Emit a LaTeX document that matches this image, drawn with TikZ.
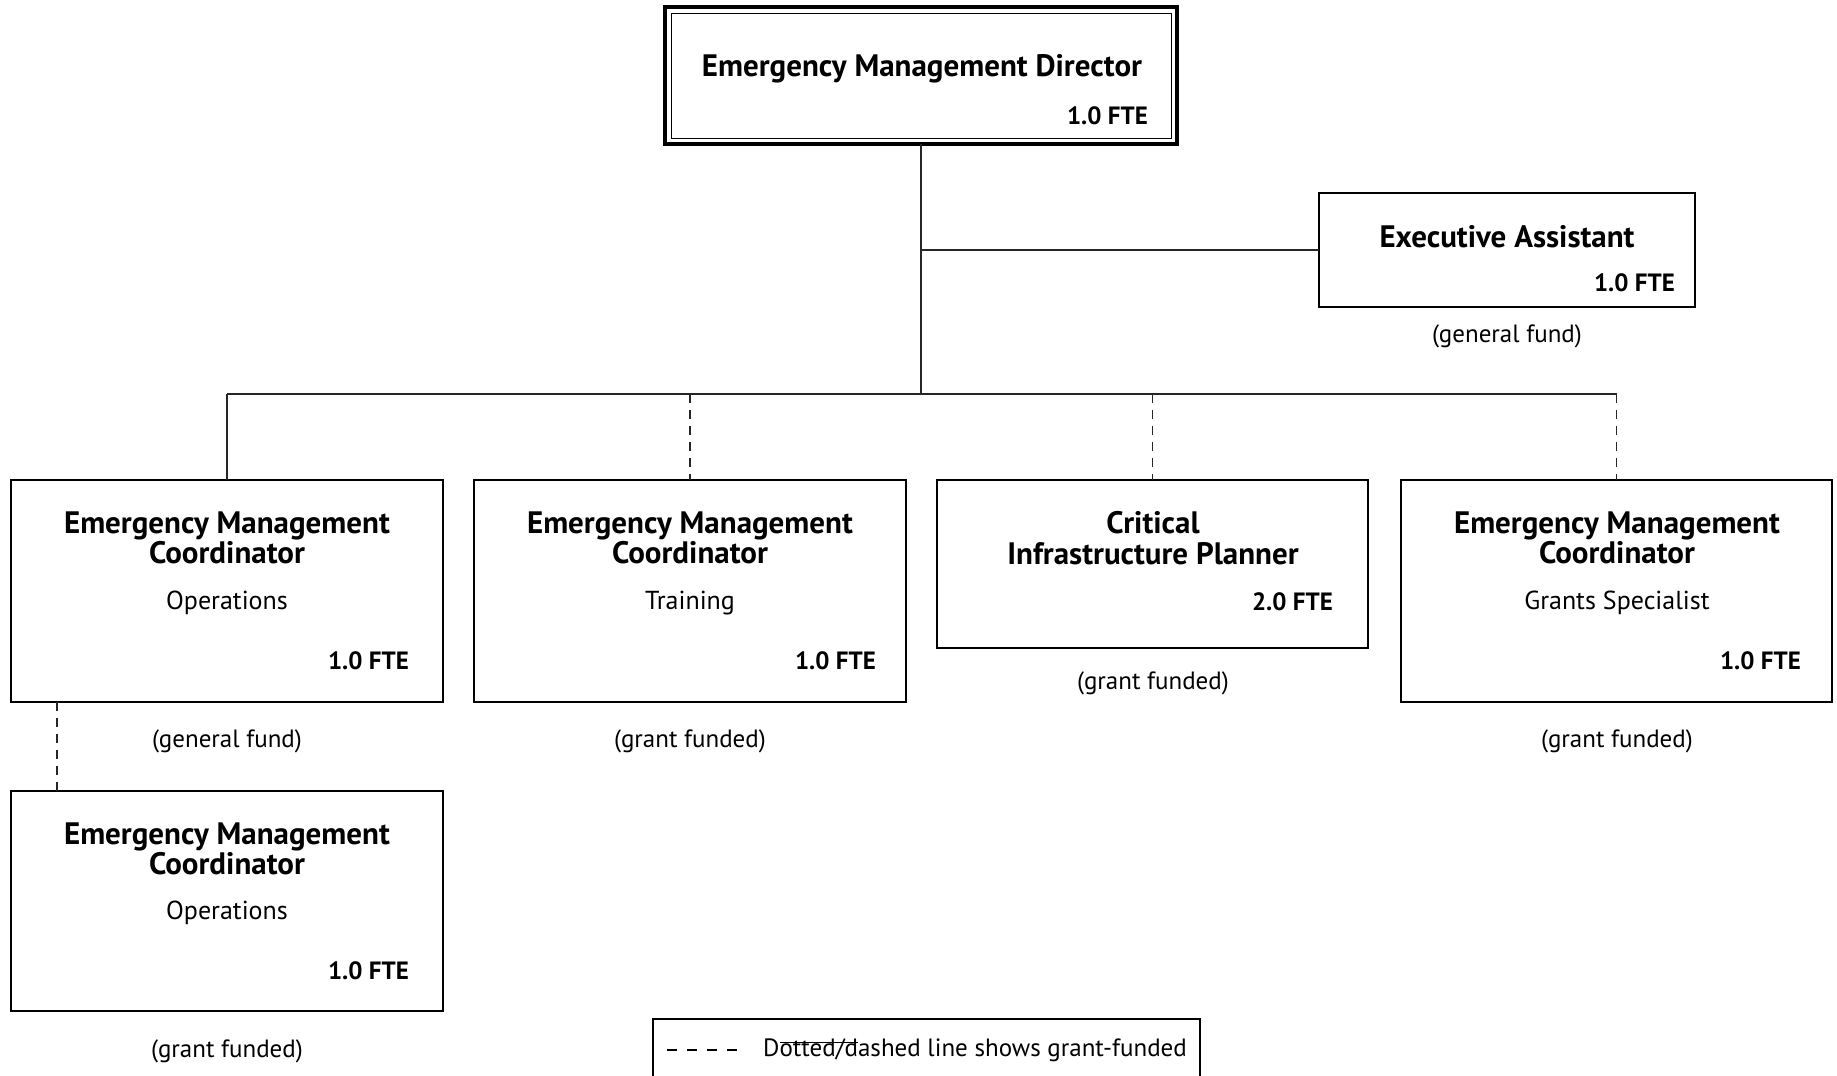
\documentclass[tikz,border=0pt]{standalone}
\usepackage{fontspec}
\setmainfont{PT Sans}
\newlength\barlen
\newcommand\topbar[1]{\settowidth\barlen{#1}\rlap{\rule[0.53em]{\barlen}{0.05em}}#1}
\begin{document}
\begin{tikzpicture}[x=1pt,y=-1pt,
  box/.style={draw, line width=2pt, inner sep=0pt, outer sep=0pt, anchor=north west},
  conn/.style={line width=1.4pt, draw=black!85},
  gconn/.style={conn, dash pattern=on 9pt off 7pt},
  ttl/.style={font=\fontsize{31}{30.5}\selectfont\bfseries, align=center, inner sep=0pt},
  sub/.style={font=\fontsize{26}{28}\selectfont, inner sep=0pt},
  fte/.style={font=\fontsize{25}{28}\selectfont\bfseries, anchor=east, inner sep=0pt},
  fund/.style={font=\fontsize{25}{28}\selectfont, inner sep=0pt}]
\clip (0,0) rectangle (1837,1076);
\fill[white] (0,0) rectangle (1837,1076);

% Director
\node[box, line width=4pt, minimum width=512pt, minimum height=137pt] (dir) at (665,7) {};
\draw[line width=1pt] ([shift={(6,6)}]dir.north west) rectangle ([shift={(-6,-6)}]dir.south east);
\node[ttl] (dirt) at (922,68.5) {Emergency Management Director};
\node[fte] (dirf) at (1148,116) {1.0 FTE};

% Executive assistant
\node[box, minimum width=376pt, minimum height=114pt] (ea) at (1319,193) {};
\node[ttl] (eat) at (1507,237) {Executive Assistant};
\node[fte] (eaf) at (1675,283) {1.0 FTE};
\node[fund] (eafund) at (1507,336) {(general fund)};

% Row of four
\node[box, minimum width=432pt, minimum height=222pt] (b1) at (11,480) {};
\node[box, minimum width=432pt, minimum height=222pt] (b2) at (474,480) {};
\node[box, minimum width=431pt, minimum height=168pt] (b3) at (937,480) {};
\node[box, minimum width=431pt, minimum height=222pt] (b4) at (1401,480) {};
\node[box, minimum width=432pt, minimum height=220pt] (b5) at (11,791) {};

\node[ttl] (b1t) at (227,538) {Emergency Management\\Coordinator};
\node[sub] (b1s) at (227,603) {Operations};
\node[fte] (b1f) at (409,661) {1.0 FTE};
\node[fund] (b1fund) at (227,741) {(general fund)};

\node[ttl] (b2t) at (690,538) {Emergency Management\\Coordinator};
\node[sub] (b2s) at (690,603) {Training};
\node[fte] (b2f) at (876,661) {1.0 FTE};
\node[fund] (b2fund) at (690,741) {(grant funded)};

\node[ttl] (b3t) at (1153,538) {Critical\\Infrastructure Planner};
\node[fte] (b3f) at (1333,602) {2.0 FTE};
\node[fund] (b3fund) at (1153,683) {(grant funded)};

\node[ttl] (b4t) at (1617,538) {Emergency Management\\Coordinator};
\node[sub] (b4s) at (1617,603) {Grants Specialist};
\node[fte] (b4f) at (1801,661) {1.0 FTE};
\node[fund] (b4fund) at (1617,741) {(grant funded)};

\node[ttl] (b5t) at (227,849) {Emergency Management\\Coordinator};
\node[sub] (b5s) at (227,913) {Operations};
\node[fte] (b5f) at (409,971) {1.0 FTE};
\node[fund] (b5fund) at (227,1051) {(grant funded)};

% Connectors
\coordinate (busL) at (227,394);
\coordinate (busR) at (1617,394);
\draw[conn] (dir.south) -- (dir.south |- busL);
\draw[conn] (dir.south |- ea.west) -- (ea.west);
\draw[conn] (busL) -- (busR);
\draw[conn] (busL) -- (b1.north -| busL);
\draw[gconn] (b2.north |- busL) -- (b2.north);
\draw[gconn] (b3.north |- busL) -- (b3.north);
\draw[gconn] (b4.north |- busL) -- (b4.north);
\coordinate (dtop) at (57,702);
\draw[gconn] (dtop) -- (dtop |- b5.north);

% Legend
\node[box, line width=1.4pt, minimum width=547pt, minimum height=90pt] (leg) at (653,1019) {};
\coordinate (legd) at (667,1050);
\draw[line width=1.4pt, dash pattern=on 10pt off 10pt] (legd) -- ++(71,0);
\node[fund, anchor=west] (legt) at (763,1050) {D\topbar{otted/d}ashed line shows grant-funded};
\end{tikzpicture}
\end{document}
